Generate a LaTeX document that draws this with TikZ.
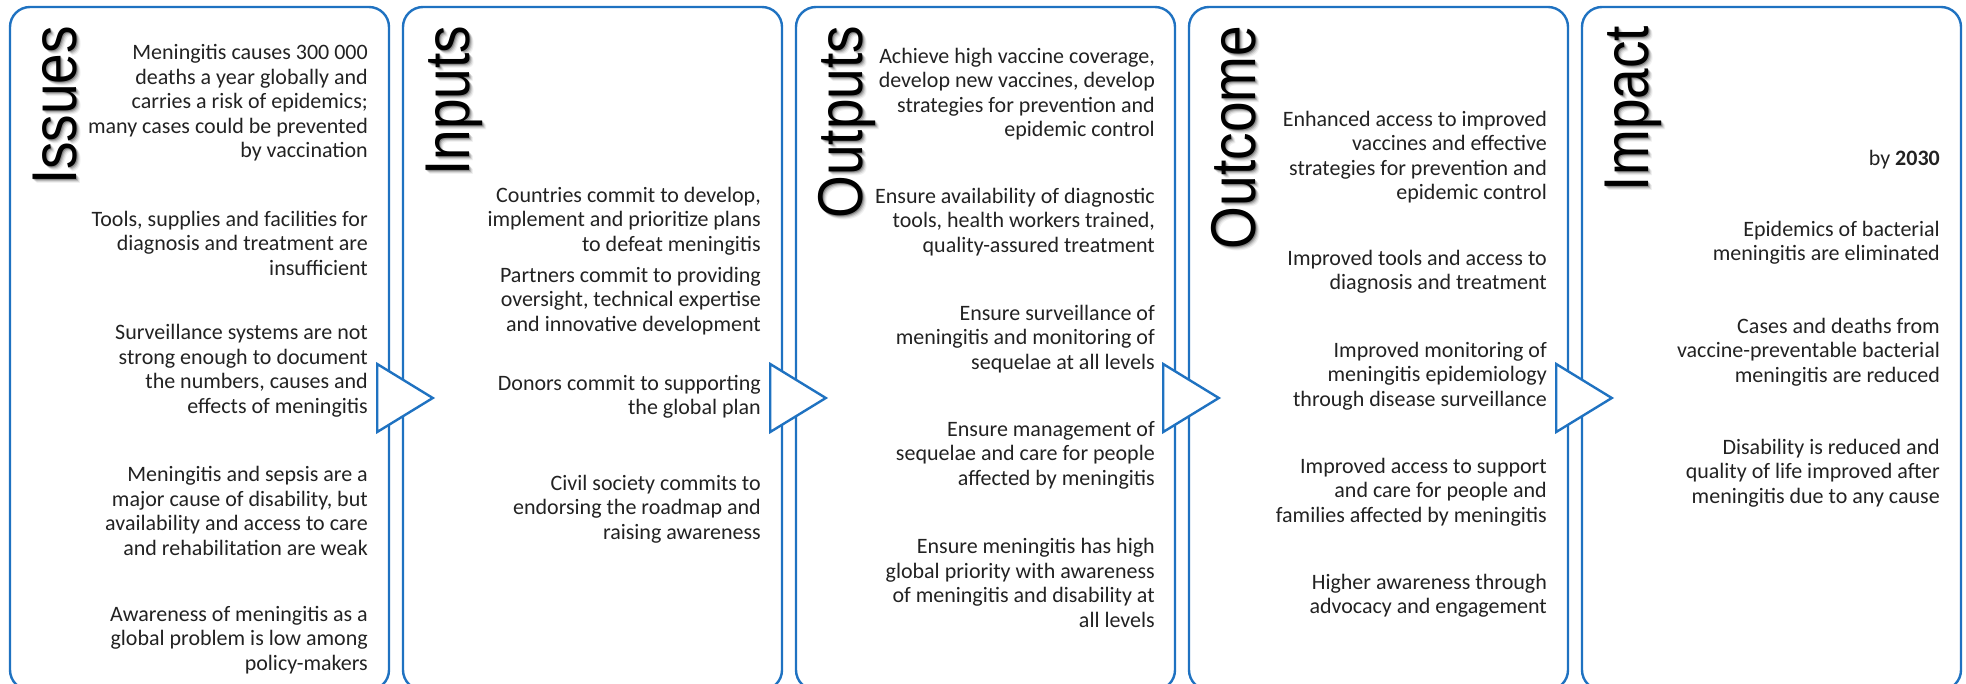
\documentclass[tikz,border=0pt]{standalone}
\usepackage{fontspec}
\setmainfont{Carlito}
\newfontfamily\titlefont{Liberation Sans}
\usetikzlibrary{positioning,calc}
\definecolor{panelblue}{RGB}{31,114,193}
\definecolor{bodygray}{RGB}{34,34,34}

\begin{document}
\begin{tikzpicture}[x=1pt, y=-1pt,
    panel/.style={rectangle, draw=panelblue, line width=2.4pt, rounded corners=20pt, minimum width=379pt, minimum height=683pt, inner sep=0pt},
    flow/.style={draw=panelblue, fill=white, line width=2.4pt, line join=miter},
    title/.style={rotate=90, anchor=base east, inner sep=0pt, font=\titlefont\fontsize{55}{60}\selectfont},
    txt/.style={anchor=east, align=right, inner sep=0pt, text=bodygray, font=\fontsize{22}{24.5}\selectfont}]

    \useasboundingbox (0,0) rectangle (1966,684);
    \clip (0,0) rectangle (1966,684);

    % Panels
    \node[panel] (issuesbox) at (199.5,348.5) {};
    \node[panel] (inputsbox) at (592.5,348.5) {};
    \node[panel] (outputsbox) at (985.5,348.5) {};
    \node[panel] (outcomebox) at (1378.5,348.5) {};
    \node[panel] (impactbox) at (1771.5,348.5) {};

    % Flow triangles between panels
    \foreach \a/\b in {issuesbox/inputsbox, inputsbox/outputsbox, outputsbox/outcomebox, outcomebox/impactbox}
        \draw[flow] ($(\a.east)+(-13,15.5)$) -- ($(\b.west)+(31,49.5)$) -- ($(\a.east)+(-13,83.5)$) -- cycle;

    % Vertical titles with soft shadow
    \foreach \bx/\word/\nm in {issuesbox/Issues/issues, inputsbox/Inputs/inputs, outputsbox/Outputs/outputs, outcomebox/Outcome/outcome, impactbox/Impact/impact} {
        \foreach \o/\op in {4/0.06, 3/0.1, 2/0.16, 1/0.25}
            \node[title, text opacity=\op] at ($(\bx.north west)+(68+\o,20+\o)$) {\scalebox{1}[1.15]{\word}};
        \node[title] (\nm) at ($(\bx.north west)+(68,20)$) {\scalebox{1}[1.15]{\word}};
    }

    % Issues
    \node[txt] (iss1) at (368,103) {Meningitis causes 300~000\\deaths a year globally and\\carries a risk of epidemics;\\many cases could be prevented\\by vaccination};
    \node[txt] (iss2) at (368,243) {Tools, supplies and facilities for\\diagnosis and treatment are\\insufficient};
    \node[txt] (iss3) at (368,371) {Surveillance systems are not\\strong enough to document\\the numbers, causes and\\effects of meningitis};
    \node[txt] (iss4) at (368,511) {Meningitis and sepsis are a\\major cause of disability, but\\availability and access to care\\and rehabilitation are weak};
    \node[txt] (iss5) at (368,640) {Awareness of meningitis as a\\global problem is low among\\policy-makers};

    % Inputs
    \node[txt] (inp1) at (761,221) {Countries commit to develop,\\implement and prioritize plans\\to defeat meningitis};
    \node[txt] (inp2) at (761,301) {Partners commit to providing\\oversight, technical expertise\\and innovative development};
    \node[txt] (inp3) at (761,397) {Donors commit to supporting\\the global plan};
    \node[txt] (inp4) at (761,509) {Civil society commits to\\endorsing the roadmap and\\raising awareness};

    % Outputs
    \node[txt] (out1) at (1155,94) {Achieve high vaccine coverage,\\develop new vaccines, develop\\strategies for prevention and\\epidemic control};
    \node[txt] (out2) at (1155,222) {Ensure availability of diagnostic\\tools, health workers trained,\\quality-assured treatment};
    \node[txt] (out3) at (1155,339) {Ensure surveillance of\\meningitis and monitoring of\\sequelae at all levels};
    \node[txt] (out4) at (1155,455) {Ensure management of\\sequelae and care for people\\affected by meningitis};
    \node[txt] (out5) at (1155,583) {Ensure meningitis has high\\global priority with awareness\\of meningitis and disability at\\all levels};

    % Outcome
    \node[txt] (oc1) at (1547,157) {Enhanced access to improved\\vaccines and effective\\strategies for prevention and\\epidemic control};
    \node[txt] (oc2) at (1547,272) {Improved tools and access to\\diagnosis and treatment};
    \node[txt] (oc3) at (1547,376) {Improved monitoring of\\meningitis epidemiology\\through disease surveillance};
    \node[txt] (oc4) at (1547,492) {Improved access to support\\and care for people and\\families affected by meningitis};
    \node[txt] (oc5) at (1547,596) {Higher awareness through\\advocacy and engagement};

    % Impact
    \node[txt] (imp0) at (1940,160) {by \textbf{2030}};
    \node[txt] (imp1) at (1940,243) {Epidemics of bacterial\\meningitis are eliminated};
    \node[txt] (imp2) at (1940,352) {Cases and deaths from\\vaccine-preventable bacterial\\meningitis are reduced};
    \node[txt] (imp3) at (1940,473) {Disability is reduced and\\quality of life improved after\\meningitis due to any cause};

\end{tikzpicture}
\end{document}
